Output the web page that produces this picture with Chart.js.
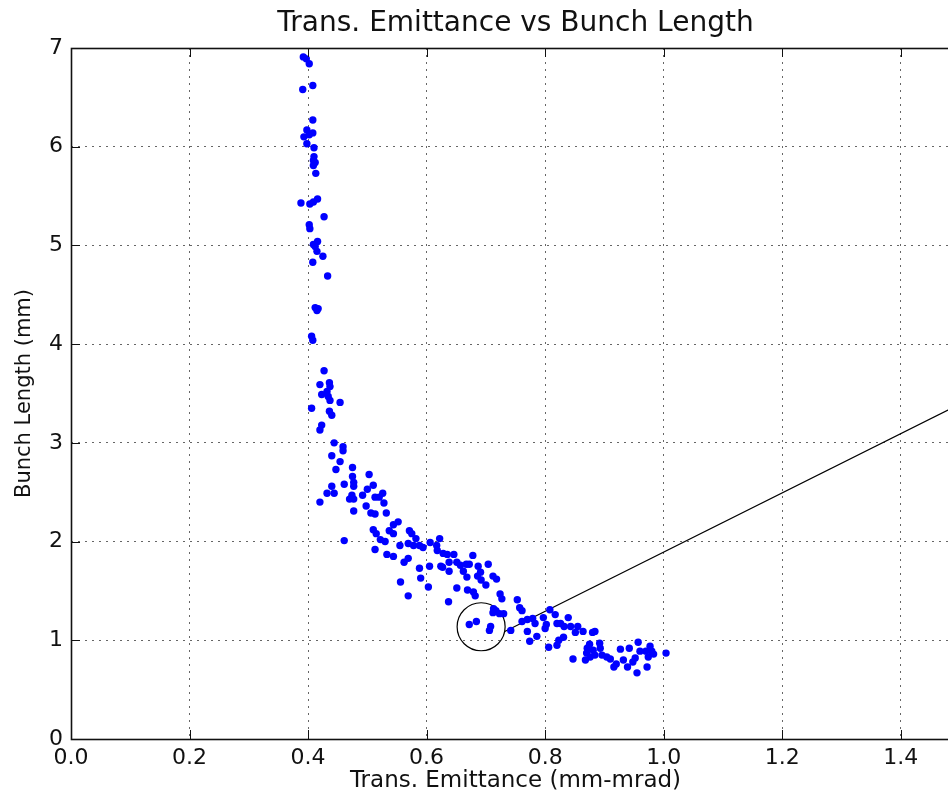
<!DOCTYPE html>
<html>
<head>
<meta charset="utf-8">
<title>Trans. Emittance vs Bunch Length</title>
<script src="https://cdn.jsdelivr.net/npm/chart.js@4.4.1/dist/chart.umd.min.js"></script>
<style>
    html, body { margin: 0; padding: 0; background: #fff; overflow: hidden; }
    #wrap { width: 1034px; height: 795px; }
</style>
</head>
<body>
<div id="wrap"><canvas id="chart-emittance" width="1034" height="795"></canvas></div>
<script>
// emittance (mm-mrad), bunch length (mm)
const emittance = [
    0.392, 0.397, 0.402, 0.408, 0.391, 0.408, 0.398, 0.408, 0.393, 0.402, 0.398, 0.410, 0.410, 0.409, 0.412, 0.409,
    0.413, 0.388, 0.403, 0.409, 0.416, 0.427,
    0.402, 0.403, 0.416, 0.412, 0.409, 0.415, 0.425, 0.408, 0.433, 0.412, 0.417, 0.415, 0.406, 0.408, 0.427,
    0.420, 0.436, 0.437, 0.423, 0.432, 0.434, 0.437, 0.454, 0.406, 0.436, 0.440, 0.423, 0.420, 0.444, 0.459, 0.459,
    0.440, 0.454, 0.447, 0.475, 0.475, 0.503, 0.440, 0.461, 0.477, 0.477, 0.510, 0.500, 0.432, 0.444, 0.474, 0.492,
    0.513, 0.520, 0.526, 0.470, 0.477, 0.420, 0.528, 0.498, 0.477, 0.506, 0.513, 0.532, 0.461,
    0.552, 0.544, 0.510, 0.537, 0.515, 0.544, 0.571, 0.575, 0.582, 0.522, 0.530, 0.569, 0.578, 0.588, 0.594, 0.606,
    0.622, 0.555, 0.513, 0.617, 0.533, 0.544, 0.618, 0.628, 0.635, 0.646, 0.678, 0.569, 0.562, 0.638, 0.651, 0.657,
    0.667, 0.672, 0.704, 0.588, 0.605, 0.624, 0.627, 0.687, 0.638, 0.662, 0.668, 0.686, 0.692, 0.700, 0.590, 0.556,
    0.603, 0.651, 0.669, 0.679, 0.682, 0.569, 0.637,
    0.691, 0.712, 0.718, 0.724, 0.727, 0.753, 0.757, 0.761, 0.713, 0.717, 0.723, 0.730, 0.712, 0.684, 0.672, 0.708,
    0.706, 0.742, 0.761, 0.770, 0.779, 0.783, 0.770, 0.786, 0.774, 0.797, 0.802, 0.806, 0.808, 0.817, 0.820,
    0.800, 0.839, 0.820, 0.826, 0.832, 0.843, 0.855, 0.851, 0.864, 0.880, 0.884, 0.831, 0.823, 0.875, 0.892, 0.871,
    0.881, 0.893, 0.870, 0.884, 0.896, 0.904, 0.868, 0.876, 0.847, 0.910, 0.927, 0.942, 0.957, 0.960, 0.970, 0.977,
    0.980, 0.983, 1.004, 0.974, 0.920, 0.932, 0.952, 0.948, 0.939, 0.916, 0.955, 0.972
];
const bunchLength = [
    6.91, 6.89, 6.84, 6.62, 6.58, 6.27, 6.17, 6.14, 6.10, 6.12, 6.03, 5.99, 5.90, 5.86, 5.84, 5.81,
    5.73, 5.43, 5.42, 5.44, 5.47, 5.29,
    5.21, 5.17, 5.04, 4.99, 5.01, 4.94, 4.89, 4.83, 4.69, 4.37, 4.36, 4.34, 4.08, 4.04, 3.73,
    3.59, 3.61, 3.57, 3.49, 3.52, 3.47, 3.43, 3.41, 3.35, 3.32, 3.28, 3.18, 3.13, 3.00, 2.96, 2.92,
    2.87, 2.81, 2.73, 2.75, 2.66, 2.68, 2.56, 2.58, 2.60, 2.56, 2.57, 2.53, 2.49, 2.49, 2.47, 2.47,
    2.45, 2.45, 2.49, 2.43, 2.43, 2.40, 2.39, 2.36, 2.31, 2.29, 2.28, 2.29, 2.01,
    2.20, 2.17, 2.12, 2.11, 2.08, 2.08, 2.11, 2.08, 2.03, 2.02, 2.00, 1.98, 1.96, 1.96, 1.94, 1.99,
    2.03, 1.96, 1.92, 1.96, 1.87, 1.85, 1.91, 1.88, 1.87, 1.87, 1.86, 1.83, 1.79, 1.79, 1.79, 1.76,
    1.77, 1.77, 1.77, 1.73, 1.75, 1.75, 1.74, 1.75, 1.70, 1.70, 1.64, 1.65, 1.61, 1.56, 1.63, 1.59,
    1.54, 1.53, 1.51, 1.49, 1.45, 1.45, 1.39,
    1.69, 1.65, 1.62, 1.47, 1.42, 1.41, 1.33, 1.30, 1.32, 1.30, 1.27, 1.27, 1.28, 1.19, 1.16, 1.14,
    1.10, 1.10, 1.19, 1.21, 1.22, 1.17, 1.09, 1.04, 0.99, 1.23, 1.16, 0.93, 1.31, 1.26, 0.95,
    1.12, 1.23, 1.17, 1.17, 1.14, 1.14, 1.14, 1.08, 1.09, 1.08, 1.09, 1.03, 1.00, 0.96, 0.97, 0.92,
    0.90, 0.92, 0.87, 0.85, 0.85, 0.83, 0.80, 0.83, 0.81, 0.81, 0.91, 0.92, 0.98, 0.89, 0.89, 0.94,
    0.89, 0.86, 0.87, 0.83, 0.76, 0.80, 0.82, 0.78, 0.73, 0.73, 0.67, 0.73
];

// circled sample and the pointer line leaving it
const circleMark = [{ x: 0.692, y: 1.137 }];
const pointerLine = [{ x: 0.731, y: 1.087 }, { x: 1.5, y: 3.393 }];

const xTicks = [0.0, 0.2, 0.4, 0.6, 0.8, 1.0, 1.2, 1.4];
const yTicks = [0, 1, 2, 3, 4, 5, 6, 7];

const TITLE = 'Trans. Emittance vs Bunch Length';
const FONT = "'DejaVu Sans', 'Liberation Sans', sans-serif";
const INK = '#111';

// title centred over the axes (not the canvas), like matplotlib does it
const axesTitle = {
    id: 'axesTitle',
    afterDraw(chart) {
        const { ctx, chartArea: a } = chart;
        ctx.save();
        ctx.fillStyle = INK;
        ctx.font = `28px ${FONT}`;
        ctx.textAlign = 'center';
        ctx.textBaseline = 'alphabetic';
        ctx.fillText(TITLE, (a.left + a.right) / 2, 31);
        ctx.restore();
    }
};

// axes frame + short inward tick marks
const frameTicks = {
    id: 'frameTicks',
    afterDatasetsDraw(chart) {
        const { ctx, chartArea: a, scales } = chart;
        const len = 9;
        ctx.save();
        ctx.strokeStyle = INK;
        ctx.lineWidth = 1;
        ctx.beginPath();
        xTicks.forEach(v => {
            const px = Math.round(scales.x.getPixelForValue(v)) + 0.5;
            ctx.moveTo(px, a.bottom); ctx.lineTo(px, a.bottom - len);
            ctx.moveTo(px, a.top); ctx.lineTo(px, a.top + len);
        });
        yTicks.forEach(v => {
            const py = Math.round(scales.y.getPixelForValue(v)) + 0.5;
            ctx.moveTo(a.left, py); ctx.lineTo(a.left + len, py);
            ctx.moveTo(a.right, py); ctx.lineTo(a.right - len, py);
        });
        ctx.stroke();
        ctx.lineWidth = 1.6;
        ctx.strokeRect(Math.round(a.left) + 0.5, Math.round(a.top) + 0.5,
            Math.round(a.right - a.left), Math.round(a.bottom - a.top));
        ctx.restore();
    }
};

const points = emittance.map((x, i) => ({ x, y: bunchLength[i] }));

new Chart(document.getElementById('chart-emittance'), {
    type: 'scatter',
    data: {
        datasets: [
            {
                data: points,
                backgroundColor: '#0000ff',
                borderColor: '#0000ff',
                borderWidth: 0,
                pointRadius: 3.7
            },
            {
                data: circleMark,
                backgroundColor: 'rgba(0,0,0,0)',
                borderColor: '#000',
                borderWidth: 1.2,
                pointRadius: 24
            },
            {
                data: pointerLine,
                showLine: true,
                borderColor: '#000',
                borderWidth: 1.2,
                pointRadius: 0
            }
        ]
    },
    options: {
        responsive: false,
        animation: false,
        devicePixelRatio: 1,
        layout: { padding: { left: 0, right: 74, top: 48, bottom: 0 } },
        plugins: {
            legend: { display: false },
            tooltip: { enabled: false },
            title: { display: false }
        },
        scales: {
            x: {
                type: 'linear',
                min: 0,
                max: 1.5,
                afterFit(scale) { scale.height = 56; },
                afterBuildTicks(scale) { scale.ticks = xTicks.map(v => ({ value: v })); },
                ticks: {
                    color: INK,
                    padding: 6,
                    font: { family: FONT, size: 22 },
                    callback: v => v.toFixed(1)
                },
                grid: { color: 'rgba(0,0,0,0.6)', lineWidth: 1, drawTicks: false },
                border: { display: false, dash: [2, 5] },
                title: {
                    display: true,
                    text: 'Trans. Emittance (mm-mrad)',
                    color: INK,
                    font: { family: FONT, size: 23 },
                    padding: { top: 0, bottom: 0 }
                }
            },
            y: {
                type: 'linear',
                min: 0,
                max: 7,
                afterFit(scale) { scale.width = 71; },
                afterBuildTicks(scale) { scale.ticks = yTicks.map(v => ({ value: v })); },
                ticks: {
                    color: INK,
                    padding: 8,
                    font: { family: FONT, size: 22 },
                    callback: v => String(v)
                },
                grid: { color: 'rgba(0,0,0,0.6)', lineWidth: 1, drawTicks: false },
                border: { display: false, dash: [2, 5] },
                title: {
                    display: true,
                    text: 'Bunch Length (mm)',
                    color: INK,
                    font: { family: FONT, size: 21 },
                    padding: { top: 12, bottom: 0 }
                }
            }
        }
    },
    plugins: [frameTicks, axesTitle]
});
</script>
</body>
</html>
